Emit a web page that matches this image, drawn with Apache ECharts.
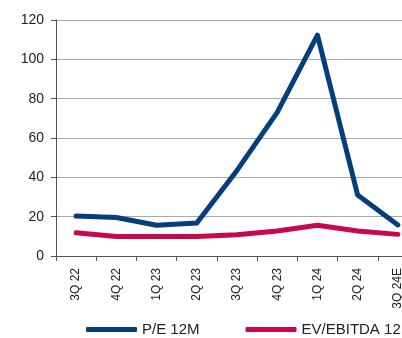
<!DOCTYPE html>
<html><head><meta charset="utf-8">
<script src="https://cdn.jsdelivr.net/npm/echarts@6/dist/echarts.min.js"></script>
<style>html,body{margin:0;padding:0;background:#fff}#c{width:402px;height:338px}</style>
</head><body><div id="c"></div>
<script>
const categories = ['3Q 22','4Q 22','1Q 23','2Q 23','3Q 23','4Q 23','1Q 24','2Q 24','3Q 24E'];
const peValues = [20.3, 19.6, 15.6, 16.8, 43.5, 73, 112.3, 31, 15.8];
const evValues = [11.8, 9.9, 9.9, 9.9, 10.8, 12.7, 15.6, 12.7, 11];
const yTicks = [0, 20, 40, 60, 80, 100, 120];
const chart = echarts.init(document.getElementById('c'));
chart.setOption({
  animation: false,
  textStyle: {fontFamily: 'Liberation Sans, Arial, sans-serif'},
  grid: {left: 56, width: 362, top: 20, height: 236, containLabel: false, outerBoundsMode: 'none'},
  xAxis: {
    type: 'category', data: categories, boundaryGap: true,
    axisLine: {lineStyle: {color: '#555', width: 1}},
    axisTick: {show: true, length: 5, lineStyle: {color: '#555'}},
    axisLabel: {rotate: 90, color: '#222', fontSize: 12, margin: 12, interval: 0}
  },
  yAxis: {
    type: 'value', min: yTicks[0], max: yTicks[yTicks.length-1], interval: 20,
    axisLine: {show: true, lineStyle: {color: '#555', width: 1}},
    axisTick: {show: true, length: 5, lineStyle: {color: '#555'}},
    axisLabel: {color: '#222', fontSize: 14, margin: 12},
    splitLine: {lineStyle: {color: '#a8a8a8', width: 1}}
  },
  legend: {
    left: 86, top: 322, width: 600, padding: 0, itemWidth: 51, itemHeight: 5, itemGap: 46,
    icon: 'roundRect',
    textStyle: {color: '#222', fontSize: 15},
    data: ['P/E 12M', 'EV/EBITDA 12M']
  },
  series: [
    {name: 'P/E 12M', type: 'line', data: peValues, symbol: 'none',
     lineStyle: {color: '#043e7d', width: 5, cap: 'round', join: 'round'}, itemStyle: {color: '#043e7d'}},
    {name: 'EV/EBITDA 12M', type: 'line', data: evValues, symbol: 'none',
     lineStyle: {color: '#c9074c', width: 5, cap: 'round', join: 'round'}, itemStyle: {color: '#c9074c'}}
  ]
});
</script></body></html>
